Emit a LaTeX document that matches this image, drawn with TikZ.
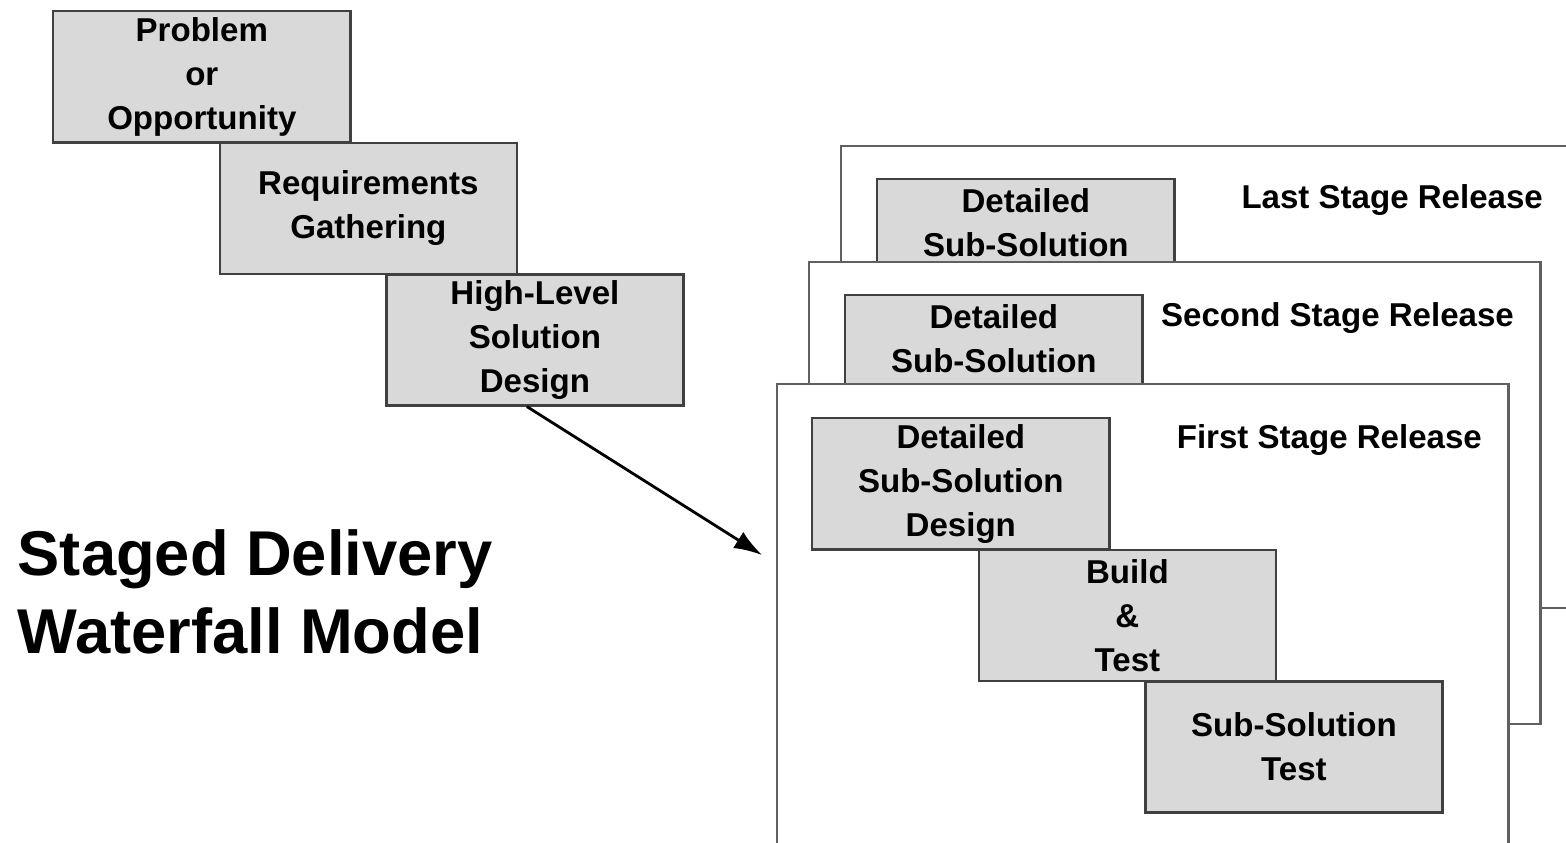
\documentclass[tikz,border=0pt]{standalone}
\usepackage{fontspec}
\setmainfont{Liberation Sans}
\usetikzlibrary{positioning}
\usetikzlibrary{arrows.meta}
\definecolor{boxfill}{HTML}{D9D9D9}
\definecolor{boxline}{HTML}{404040}
\definecolor{frameline}{HTML}{606060}

\begin{document}
\begin{tikzpicture}[
    x=0.01cm, y=-0.01cm,
    stepbox/.style={rectangle, draw=boxline, line width=0.7pt, fill=boxfill, minimum width=2.97cm, minimum height=1.31cm, inner sep=0pt, align=center, font=\fontsize{9.4}{12.5}\selectfont\bfseries},
    frame/.style={rectangle, draw=frameline, line width=0.6pt, fill=white, minimum width=7.31cm, minimum height=4.62cm, inner sep=0pt, anchor=north west},
    stage/.style={anchor=east, inner sep=0pt, font=\fontsize{9.4}{12.5}\selectfont\bfseries},
    arr/.style={line width=0.8pt, -{Latex[length=0.28cm,width=0.19cm]}}
    ]
    \useasboundingbox (0,0) rectangle (1566,842);
    \node (prob) [stepbox, anchor=north west] at (52,10) {Problem\\or\\Opportunity};
    \node (req) [stepbox, below right=-0.02cm and -1.33cm of prob] {Requirements\\Gathering};
    \node (hl) [stepbox, below right=-0.02cm and -1.33cm of req] {High-Level\\Solution\\Design};
    \node (title) [anchor=west, inner sep=0pt, align=left, font=\fontsize{18}{22}\selectfont\bfseries] at (17,592) {Staged Delivery\\Waterfall Model};

    \node (last) [frame] at (840,145) {};
    \node (lastd) [stepbox, anchor=north west] at ([shift={(36,33)}]last.north west) {Detailed\\Sub-Solution\\\phantom{D}};
    \node (lastl) [stage] at ([shift={(-30,55)}]last.north east) {Last Stage Release};

    \node (second) [frame] at (808,261) {};
    \node (secondd) [stepbox, anchor=north west] at ([shift={(36,33)}]second.north west) {Detailed\\Sub-Solution\\\phantom{D}};
    \node (secondl) [stage] at ([shift={(-27,57)}]second.north east) {Second Stage Release};

    \node (first) [frame] at (776,383) {};
    \node (dsd) [stepbox, anchor=north west] at ([shift={(35,34)}]first.north west) {Detailed\\Sub-Solution\\Design};
    \node (bt) [stepbox, below right=-0.02cm and -1.33cm of dsd] {Build\\\&\\Test};
    \node (st) [stepbox, below right=-0.02cm and -1.33cm of bt] {Sub-Solution\\Test};
    \node (firstl) [stage] at ([shift={(-27,57)}]first.north east) {First Stage Release};

    \coordinate (tip) at (762,555);
    \draw[arr] ([xshift=-0.08cm]hl.south) -- (tip);
  \end{tikzpicture}
\end{document}
